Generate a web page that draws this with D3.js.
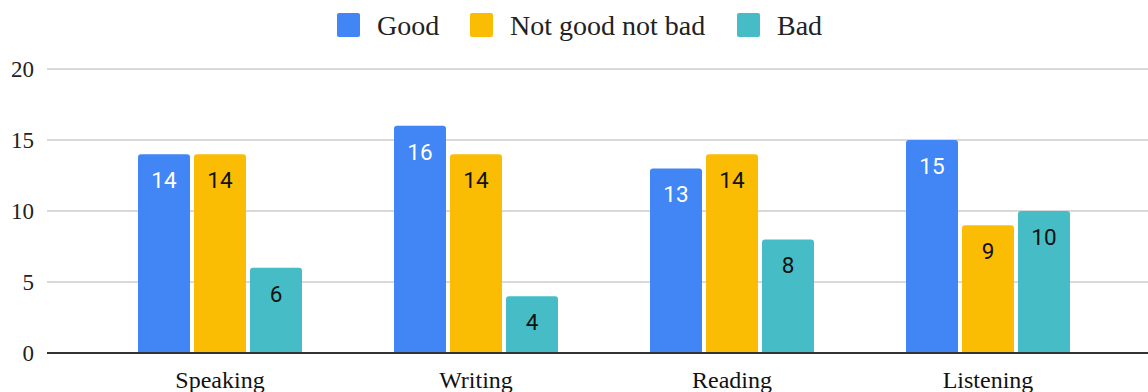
<!DOCTYPE html>
<html>
<head>
<meta charset="utf-8">
<script src="https://cdn.jsdelivr.net/npm/d3@7"></script>
<style>
  html, body { margin: 0; padding: 0; background: #fff; }
  svg { display: block; }
</style>
</head>
<body>
<svg id="chart" width="1148" height="392"></svg>
<script>
// Survey results per language skill
const categories = ["Speaking", "Writing", "Reading", "Listening"];
const seriesNames = ["Good", "Not good not bad", "Bad"];
const good = [14, 16, 13, 15];
const neutral = [14, 14, 14, 9];
const bad = [6, 4, 8, 10];
const yTicks = [0, 5, 10, 15, 20];

const seriesValues = [good, neutral, bad];
const colors = ["#4285F4", "#FBBC04", "#46BDC6"];
const labelColors = ["#ffffff", "#111111", "#111111"];

const svg = d3.select("#chart");
const W = 1148, H = 392;
const plotLeft = 47, plotRight = W;
const plotTop = 69, plotBottom = 353;

const y = d3.scaleLinear().domain([0, 20]).range([plotBottom, plotTop]);
const x = d3.scaleBand().domain(categories).range([92, 1116]).padding(0);
const inner = d3.scaleBand().domain(seriesNames).range([-82, 82])
  .paddingInner(4 / 56).paddingOuter(0);

const serif = "'Liberation Serif', 'Times New Roman', serif";

// Gridlines
svg.append("g").selectAll("line").data(yTicks.filter(d => d !== 0)).join("line")
  .attr("x1", plotLeft).attr("x2", plotRight)
  .attr("y1", d => y(d)).attr("y2", d => y(d))
  .attr("stroke", "#cccccc").attr("stroke-width", 1.5);

// Y tick labels
const yAxis = d3.axisLeft(y).tickValues(yTicks).tickSize(0).tickPadding(0);
const gy = svg.append("g").attr("transform", `translate(34,0)`).call(yAxis);
gy.select(".domain").remove();
gy.selectAll("text")
  .attr("font-family", serif).attr("font-size", 23).attr("fill", "#222")
  .attr("dy", "0.34em");

// Bars with slightly rounded top corners
function barPath(x0, w, yTop, yBase, r) {
  r = Math.min(r, w / 2, yBase - yTop);
  return `M${x0},${yBase}V${yTop + r}Q${x0},${yTop} ${x0 + r},${yTop}` +
         `H${x0 + w - r}Q${x0 + w},${yTop} ${x0 + w},${yTop + r}V${yBase}Z`;
}

const rows = [];
categories.forEach((c, i) => {
  seriesNames.forEach((s, j) => {
    rows.push({ cat: c, series: s, si: j, value: seriesValues[j][i] });
  });
});

const bars = svg.append("g");
bars.selectAll("path").data(rows).join("path")
  .attr("d", d => {
    const x0 = x(d.cat) + x.bandwidth() / 2 + inner(d.series);
    return barPath(x0, inner.bandwidth(), y(d.value), y(0), 3);
  })
  .attr("fill", d => colors[d.si]);

// Value labels inside each bar
bars.selectAll("text").data(rows).join("text")
  .attr("x", d => x(d.cat) + x.bandwidth() / 2 + inner(d.series) + inner.bandwidth() / 2)
  .attr("y", d => y(d.value) + 34)
  .attr("text-anchor", "middle")
  .attr("font-family", "Roboto, sans-serif")
  .attr("font-size", 22.5)
  .attr("fill", d => labelColors[d.si])
  .text(d => d.value);

// Baseline
svg.append("line")
  .attr("x1", plotLeft).attr("x2", plotRight)
  .attr("y1", y(0)).attr("y2", y(0))
  .attr("stroke", "#333").attr("stroke-width", 2);

// Category labels
const xAxis = d3.axisBottom(x).tickSize(0).tickPadding(0);
const gx = svg.append("g").attr("transform", `translate(0,${y(0)})`).call(xAxis);
gx.select(".domain").remove();
gx.selectAll("text")
  .attr("font-family", serif).attr("font-size", 24).attr("fill", "#111")
  .attr("dy", null).attr("y", 35);

// Legend
const legendItems = [
  { name: seriesNames[0], sx: 337, tx: 377 },
  { name: seriesNames[1], sx: 470, tx: 510 },
  { name: seriesNames[2], sx: 737, tx: 777 }
];
const lg = svg.append("g");
lg.selectAll("rect").data(legendItems).join("rect")
  .attr("x", d => d.sx).attr("y", 13).attr("width", 23).attr("height", 24)
  .attr("rx", 2).attr("fill", (d, i) => colors[i]);
lg.selectAll("text").data(legendItems).join("text")
  .attr("x", d => d.tx).attr("y", 35)
  .attr("font-family", serif).attr("font-size", 28).attr("fill", "#222")
  .text(d => d.name);
</script>
</body>
</html>
